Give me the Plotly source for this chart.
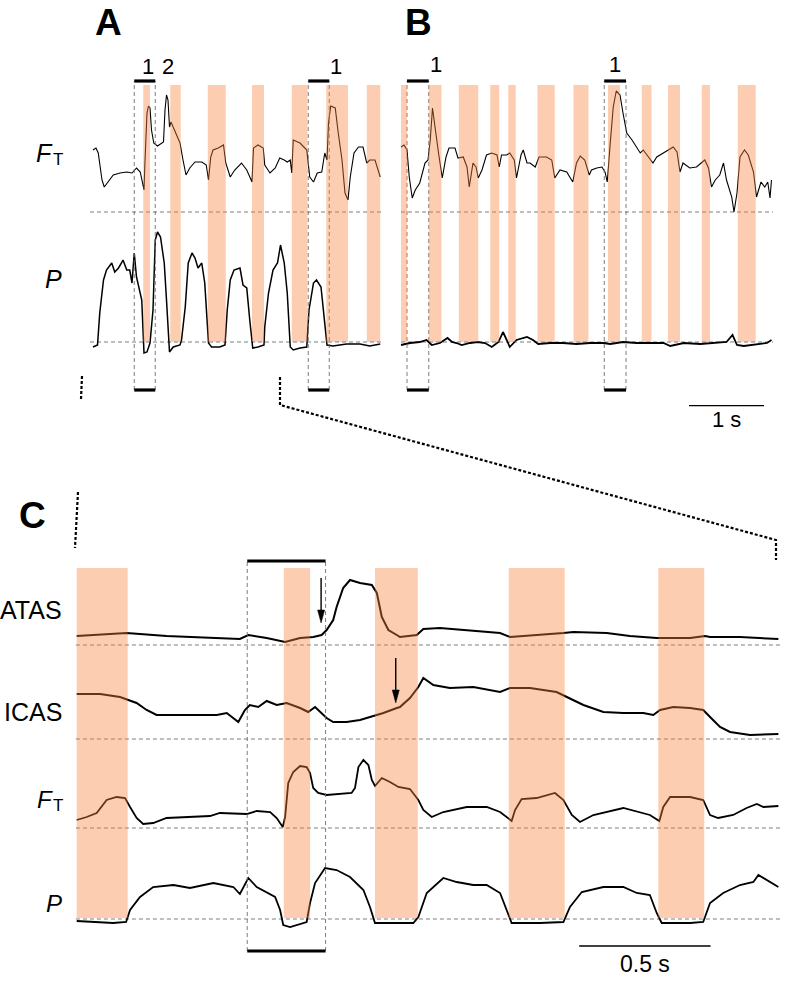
import plotly.graph_objects as go

# ---------------- data (time in s, amplitude in arbitrary units; 0 = dashed baseline) ----------------
# Panel A
A_FT = [(0.00,62),(0.04,64),(0.07,59),(0.12,32),(0.15,25),(0.20,30),(0.27,37),(0.36,39),(0.45,40),(0.52,39),
        (0.58,44),(0.63,40),(0.66,30),(0.68,22),(0.69,45),(0.72,99),(0.74,106),(0.76,104),(0.78,82),(0.81,69),
        (0.86,66),(0.92,69),(0.94,70),(0.96,102),(0.98,117),(1.00,112),(1.02,85),(1.04,90),(1.07,85),(1.12,75),
        (1.16,69),(1.20,52),(1.24,37),(1.29,44),(1.36,50),(1.45,50),(1.51,47),(1.54,32),(1.57,55),(1.60,62),
        (1.67,64),(1.74,67),(1.77,49),(1.83,35),(1.89,42),(1.98,49),(2.05,42),(2.12,30),(2.14,64),(2.20,67),
        (2.27,64),(2.29,47),(2.36,39),(2.43,44),(2.49,54),(2.55,52),(2.59,50),(2.63,52),(2.65,39),(2.67,72),
        (2.76,69),(2.85,62),(2.89,35),(2.94,30),(2.99,39),(3.05,40),(3.09,59),(3.12,52),(3.14,89),(3.17,106),
        (3.23,104),(3.27,79),(3.32,52),(3.36,19),(3.40,12),(3.43,35),(3.48,59),(3.54,65),(3.60,65),(3.65,49),
        (3.69,52),(3.76,52),(3.80,42),(3.83,35)]
A_P = [(0.00,-5),(0.06,-3),(0.09,29),(0.14,62),(0.18,72),(0.25,79),(0.29,70),(0.34,74),(0.38,79),(0.40,82),
       (0.45,72),(0.49,72),(0.52,59),(0.55,89),(0.58,65),(0.63,47),(0.65,42),(0.68,-11),(0.72,-10),(0.76,-1),
       (0.80,32),(0.83,102),(0.86,110),(0.90,105),(0.95,79),(0.98,42),(1.02,-10),(1.07,-5),(1.16,-3),(1.18,2),
       (1.23,35),(1.27,79),(1.32,89),(1.36,84),(1.40,74),(1.45,79),(1.49,59),(1.54,-1),(1.58,-5),(1.69,-5),
       (1.76,-3),(1.79,32),(1.83,62),(1.88,72),(1.96,74),(2.00,57),(2.05,54),(2.09,22),(2.13,-6),(2.20,-5),
       (2.28,-3),(2.29,15),(2.34,49),(2.40,72),(2.46,79),(2.50,97),(2.55,79),(2.59,49),(2.63,-5),(2.67,-8),
       (2.76,-6),(2.85,-5),(2.88,32),(2.94,59),(2.98,62),(3.04,55),(3.07,35),(3.12,-3),(3.20,-4),(3.38,-2),
       (3.56,-2),(3.69,-4),(3.83,-2)]
A_SHADE = [(0.67,0.76),(1.03,1.17),(1.53,1.77),(2.12,2.28),(2.65,2.86),(3.11,3.40),(3.65,3.83)]
A_BOXES = [(0.55,0.83),(2.87,3.15)]
A_BOX_LABELS = [(0.727,"1"),(1.00,"2"),(3.24,"1")]

# Panel B
B_FT = [(0.00,65),(0.04,67),(0.08,62),(0.11,35),(0.15,14),(0.19,22),(0.25,29),(0.32,49),(0.36,52),(0.39,72),
        (0.42,104),(0.45,85),(0.50,59),(0.55,34),(0.60,55),(0.64,64),(0.72,64),(0.76,54),(0.83,55),(0.88,45),
        (0.91,25),(0.96,49),(1.00,45),(1.03,34),(1.08,42),(1.14,57),(1.21,59),(1.28,57),(1.31,45),(1.34,57),
        (1.41,57),(1.45,59),(1.51,52),(1.54,34),(1.60,57),(1.63,62),(1.68,49),(1.72,49),(1.79,45),(1.84,55),
        (1.94,55),(2.01,52),(2.05,34),(2.12,42),(2.21,40),(2.29,30),(2.34,49),(2.39,56),(2.45,52),(2.51,37),
        (2.54,42),(2.61,44),(2.68,45),(2.72,40),(2.75,30),(2.79,69),(2.83,105),(2.87,121),(2.92,117),(2.96,99),
        (3.01,79),(3.08,72),(3.14,65),(3.19,59),(3.23,62),(3.30,55),(3.36,49),(3.41,55),(3.50,59),(3.56,62),
        (3.63,65),(3.68,60),(3.72,40),(3.76,49),(3.85,44),(3.94,45),(4.01,50),(4.05,52),(4.10,44),(4.14,25),
        (4.19,32),(4.25,37),(4.30,49),(4.34,32),(4.41,15),(4.44,0),(4.48,19),(4.52,55),(4.58,62),(4.63,57),
        (4.70,40),(4.74,15),(4.80,30),(4.85,25),(4.89,30),(4.92,14),(4.94,32)]
B_P = [(0.00,-3),(0.12,-1),(0.25,0),(0.34,2),(0.41,-3),(0.52,-1),(0.62,4),(0.68,0),(0.74,-1),(0.81,-3),
       (0.92,-1),(1.02,0),(1.12,-1),(1.21,-5),(1.30,0),(1.36,10),(1.41,2),(1.45,-5),(1.54,2),(1.68,5),
       (1.76,2),(1.83,-2),(1.99,-1),(2.16,-1),(2.34,-2),(2.52,-1),(2.70,-1),(2.79,-2),(2.96,0),(3.14,-1),
       (3.32,-1),(3.50,-1),(3.59,-4),(3.77,-1),(3.99,-2),(4.21,-1),(4.34,0),(4.42,7),(4.48,-3),(4.57,-4),
       (4.74,-2),(4.88,-1),(4.94,2)]
B_SHADE = [(0.00,0.08),(0.37,0.54),(0.77,1.03),(1.19,1.31),(1.43,1.53),(1.82,2.05),(2.30,2.50),
           (2.76,2.92),(3.21,3.34),(3.56,3.72),(4.01,4.12),(4.49,4.73)]
B_BOXES = [(0.08,0.37),(2.71,3.00)]
B_BOX_LABELS = [(0.467,"1"),(2.853,"1")]
AB_SCALEBAR = (3.84, 1.0)   # start (s, panel B time) and length (s)

# Panel C
C_ATAS = [(0.000,9),(0.190,12),(0.342,9),(0.533,7),(0.621,6),(0.653,10),(0.723,7),(0.793,3),(0.850,7),(0.900,8),
          (0.932,10),(0.951,15),(0.976,25),(0.989,38),(1.014,57),(1.040,65),(1.078,62),(1.123,60),(1.142,52),(1.161,28),
          (1.186,15),(1.218,10),(1.230,8),(1.294,10),(1.319,16),(1.382,17),(1.509,14),(1.611,12),(1.649,8),(1.763,10),
          (1.852,12),(1.890,13),(2.017,12),(2.105,9),(2.207,7),(2.334,7),(2.391,9),(2.410,8),(2.524,8),(2.670,6)]
C_ICAS = [(0.000,45),(0.089,45),(0.165,42),(0.194,39),(0.228,36),(0.266,29),(0.304,24),(0.406,24),(0.533,24),(0.571,26),
          (0.596,21),(0.615,17),(0.640,29),(0.659,34),(0.691,32),(0.723,38),(0.761,34),(0.799,36),(0.850,31),(0.881,27),
          (0.907,32),(0.926,27),(0.951,21),(0.976,17),(1.027,17),(1.078,19),(1.116,22),(1.167,26),(1.218,31),(1.230,32),
          (1.268,41),(1.300,52),(1.319,61),(1.357,54),(1.420,51),(1.509,52),(1.611,47),(1.649,51),(1.725,51),(1.826,47),
          (1.865,42),(1.928,34),(2.004,27),(2.080,26),(2.156,26),(2.194,24),(2.220,29),(2.270,32),(2.334,31),(2.384,29),
          (2.410,22),(2.448,12),(2.486,7),(2.562,4),(2.670,5)]
C_FT = [(0.000,8),(0.038,11),(0.076,15),(0.095,21),(0.114,28),(0.152,31),(0.184,30),(0.203,21),(0.228,10),(0.253,4),
        (0.291,5),(0.342,10),(0.406,11),(0.507,12),(0.545,15),(0.609,14),(0.647,14),(0.685,17),(0.736,16),(0.761,10),
        (0.784,1),(0.793,11),(0.805,45),(0.824,56),(0.850,62),(0.875,61),(0.888,55),(0.900,40),(0.919,35),(0.951,33),
        (1.046,35),(1.059,40),(1.072,61),(1.091,68),(1.110,63),(1.123,48),(1.135,42),(1.161,50),(1.192,46),(1.224,41),
        (1.268,39),(1.300,28),(1.319,18),(1.351,11),(1.395,16),(1.484,21),(1.560,21),(1.611,16),(1.655,7),(1.668,18),
        (1.693,29),(1.750,30),(1.820,35),(1.852,28),(1.884,13),(1.915,6),(1.966,13),(2.080,20),(2.181,13),(2.217,7),
        (2.232,21),(2.258,31),(2.334,31),(2.384,28),(2.410,13),(2.441,10),(2.498,13),(2.549,20),(2.588,24),(2.613,21),
        (2.670,22)]
C_P = [(0.000,-2),(0.089,-3),(0.139,-4),(0.188,-3),(0.203,9),(0.241,22),(0.291,32),(0.368,34),(0.431,31),(0.520,36),
       (0.596,32),(0.621,25),(0.653,41),(0.685,32),(0.723,27),(0.755,22),(0.774,9),(0.786,-6),(0.812,-8),(0.875,-3),
       (0.888,16),(0.907,36),(0.945,51),(0.989,49),(1.040,42),(1.091,29),(1.116,12),(1.135,-4),(1.180,-4),(1.224,-4),
       (1.281,-4),(1.300,2),(1.332,26),(1.395,41),(1.446,37),(1.509,34),(1.560,34),(1.611,26),(1.636,9),(1.655,-4),
       (1.763,-4),(1.852,-3),(1.877,12),(1.922,27),(2.004,32),(2.080,32),(2.131,26),(2.181,24),(2.207,6),(2.226,-4),
       (2.334,-4),(2.384,-3),(2.410,16),(2.460,26),(2.524,34),(2.575,37),(2.594,44),(2.626,39),(2.670,32)]
C_SHADE = [(0.000,0.194),(0.788,0.888),(1.135,1.298),(1.644,1.857),(2.213,2.388)]
C_BOX = (0.649,0.947)
C_ARROWS = [("ATAS",0.930,22),("ICAS",1.214,36)]
C_SCALEBAR = (1.912, 0.5)

# ---------------- layout geometry (pixels of the 786 x 991 page) ----------------
W, H = 786, 991
FONT = "Liberation Sans, Arial, sans-serif"
SHADE_COLOR = "rgb(247,130,60)"
SHADE_OPACITY = 0.4
DASH_COLOR = "#6e6e6e"
C_PX_PER_S = 262.8


def px(p):
    return p / W


def py(p):
    return 1 - p / H


def xcfg(origin_px, scale, d0, d1, anchor):
    return dict(domain=[px(d0), px(d1)], range=[(d0 - origin_px) / scale, (d1 - origin_px) / scale],
                visible=False, anchor=anchor, fixedrange=True)


def ycfg(base_px, top, bottom, anchor):
    return dict(domain=[py(bottom), py(top)], range=[base_px - bottom, base_px - top],
                visible=False, anchor=anchor, fixedrange=True)


fig = go.Figure()


def add_line(pairs, xa, ya, width):
    fig.add_trace(go.Scatter(x=[p[0] for p in pairs], y=[p[1] for p in pairs], mode="lines",
                             line=dict(color="black", width=width, shape="linear"),
                             xaxis=xa, yaxis=ya, hoverinfo="skip", showlegend=False))


add_line(A_FT, "x", "y", 1.1)
add_line(A_P, "x", "y2", 1.5)
add_line(B_FT, "x2", "y3", 1.1)
add_line(B_P, "x2", "y4", 1.8)
add_line(C_ATAS, "x3", "y5", 2.0)
add_line(C_ICAS, "x3", "y6", 2.0)
add_line(C_FT, "x3", "y7", 1.8)
add_line(C_P, "x3", "y8", 1.8)

shapes = []
annotations = []


def baseline(xref, yref, t0, t1):
    shapes.append(dict(type="line", xref=xref, yref=yref, x0=t0, x1=t1, y0=0, y1=0, layer="below",
                       line=dict(color=DASH_COLOR, width=0.9, dash="4px,3px")))


baseline("x", "y", -0.04, 3.87)
baseline("x", "y2", -0.04, 3.87)
baseline("x2", "y3", 0.0, 4.96)
baseline("x2", "y4", 0.0, 4.96)
for ya in ["y5", "y6", "y7", "y8"]:
    baseline("x3", ya, -0.003, 2.68)


def vdash(xref, t, top, bottom):
    shapes.append(dict(type="line", xref=xref, yref="paper", x0=t, x1=t, y0=py(bottom), y1=py(top), layer="above",
                       line=dict(color=DASH_COLOR, width=0.9, dash="4px,3px")))


def hbar(xref, t0, t1, y, w=3.2):
    shapes.append(dict(type="line", xref=xref, yref="paper", x0=t0, x1=t1, y0=py(y), y1=py(y), layer="above",
                       line=dict(color="black", width=w)))


for xref, boxes in (("x", A_BOXES), ("x2", B_BOXES)):
    for t0, t1 in boxes:
        vdash(xref, t0, 81, 390)
        vdash(xref, t1, 81, 390)
        hbar(xref, t0, t1, 81)
        hbar(xref, t0, t1, 390)

vdash("x3", C_BOX[0], 561, 951)
vdash("x3", C_BOX[1], 561, 951)
hbar("x3", C_BOX[0], C_BOX[1], 561)
hbar("x3", C_BOX[0], C_BOX[1], 951)


def shade(xref, t0, t1, top, bottom):
    shapes.append(dict(type="rect", xref=xref, yref="paper", x0=t0, x1=t1, y0=py(bottom), y1=py(top),
                       fillcolor=SHADE_COLOR, opacity=SHADE_OPACITY, line=dict(width=0), layer="above"))


for t0, t1 in A_SHADE:
    shade("x", t0, t1, 85, 342)
for t0, t1 in B_SHADE:
    shade("x2", t0, t1, 85, 342)
for t0, t1 in C_SHADE:
    shade("x3", t0, t1, 568, 918)

# scale bars
hbar("x2", AB_SCALEBAR[0], AB_SCALEBAR[0] + AB_SCALEBAR[1], 405.7, 1.3)
hbar("x3", C_SCALEBAR[0], C_SCALEBAR[0] + C_SCALEBAR[1], 946, 1.3)

# arrows in panel C (shaft + filled head), anchored at data points
arrow_axis = {"ATAS": "y5", "ICAS": "y6"}
HEAD_LEN, HEAD_HALF, SHAFT = 13, 3.5, 45   # pixels (1 y-unit = 1 px in panel C)
for name, t, v in C_ARROWS:
    ya = arrow_axis[name]
    hw = HEAD_HALF / C_PX_PER_S
    shapes.append(dict(type="line", xref="x3", yref=ya, x0=t, x1=t, y0=v + SHAFT, y1=v + HEAD_LEN - 1,
                       line=dict(color="black", width=1.4), layer="above"))
    shapes.append(dict(type="path", xref="x3", yref=ya,
                       path=f"M {t - hw} {v + HEAD_LEN} L {t + hw} {v + HEAD_LEN} L {t} {v} Z",
                       fillcolor="black", line=dict(color="black", width=0.5), layer="above"))

# zoom connectors (dotted)
dot = dict(color="black", width=2.2, dash="3px,2px")
shapes.append(dict(type="line", xref="paper", yref="paper", x0=px(82), x1=px(81), y0=py(376), y1=py(399), line=dot))
shapes.append(dict(type="line", xref="paper", yref="paper", x0=px(78), x1=px(75), y0=py(492), y1=py(548), line=dot))
shapes.append(dict(type="path", xref="paper", yref="paper",
                   path=f"M {px(280)} {py(377)} L {px(280)} {py(405)} L {px(776)} {py(540)} L {px(776)} {py(560)}",
                   line=dot))


def label(text, x, y, size, xanchor="center", weight="normal", style="normal", xref="paper"):
    annotations.append(dict(text=text, x=x, y=py(y), xref=xref, yref="paper",
                            xanchor=xanchor, yanchor="middle", showarrow=False,
                            font=dict(family=FONT, size=size, color="black", weight=weight, style=style)))


label("A", px(108), 22, 37, weight="bold")
label("B", px(418), 22, 37, weight="bold")
label("C", px(32), 515, 37, weight="bold")

# F with subscript T (two pieces: italic F, upright smaller T)
label("F", px(55), 153, 25, xanchor="right", style="italic")
label("T", px(50.5), 160, 17, xanchor="left")
label("P", px(64), 279, 25, xanchor="right", style="italic")
label("ATAS", px(64), 610, 25, xanchor="right")
label("ICAS", px(64), 712, 25, xanchor="right")
label("F", px(55), 799, 24, xanchor="right", style="italic")
label("T", px(50.5), 805, 17, xanchor="left")
label("P", px(64), 903, 24, xanchor="right", style="italic")

for t, s in A_BOX_LABELS:
    label(s, t, 66, 22, xref="x")
for t, s in B_BOX_LABELS:
    label(s, t, 65, 22, xref="x2")

label("1 s", AB_SCALEBAR[0] + AB_SCALEBAR[1] / 2, 419, 22, xref="x2")
label("0.5 s", C_SCALEBAR[0] + C_SCALEBAR[1] / 2, 964, 23, xref="x3")

fig.update_layout(
    width=W, height=H, margin=dict(l=0, r=0, t=0, b=0), autosize=False,
    paper_bgcolor="white", plot_bgcolor="rgba(0,0,0,0)", showlegend=False,
    xaxis=xcfg(93, 75, 85, 385, "y"),
    xaxis2=xcfg(401, 75, 395, 782, "y3"),
    xaxis3=xcfg(76.7, C_PX_PER_S, 70, 785, "y5"),
    yaxis=ycfg(212, 80, 222, "x"),
    yaxis2=ycfg(342, 224, 362, "x"),
    yaxis3=ycfg(212, 80, 222, "x2"),
    yaxis4=ycfg(342, 224, 362, "x2"),
    yaxis5=ycfg(645, 568, 652, "x3"),
    yaxis6=ycfg(739, 654, 746, "x3"),
    yaxis7=ycfg(828, 748, 836, "x3"),
    yaxis8=ycfg(919, 850, 934, "x3"),
    shapes=shapes, annotations=annotations,
)

fig.write_html("out.html", config={"displayModeBar": False},
               post_script="document.body.style.margin='0';document.body.style.overflow='hidden';")
